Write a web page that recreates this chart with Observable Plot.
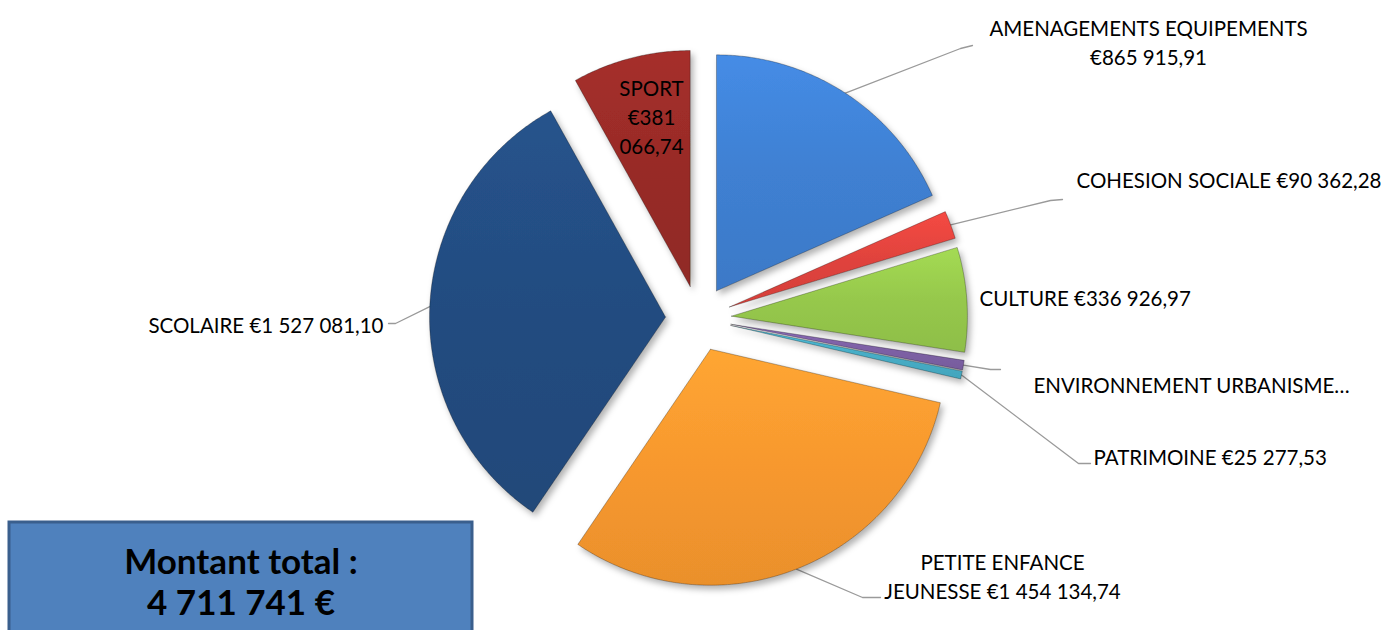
<!DOCTYPE html>
<html>
<head>
<meta charset="utf-8">
<script src="https://cdn.jsdelivr.net/npm/d3@7"></script>
<script src="https://cdn.jsdelivr.net/npm/@observablehq/plot@0.6"></script>
<style>
  html, body { margin: 0; padding: 0; background: #ffffff; }
  #chart { width: 1386px; height: 630px; overflow: hidden; }
</style>
</head>
<body>
<div id="chart"></div>
<script>
// ---------- DATA ----------
const categories = [
  "AMENAGEMENTS EQUIPEMENTS", "COHESION SOCIALE", "CULTURE", "ENVIRONNEMENT URBANISME",
  "PATRIMOINE", "PETITE ENFANCE JEUNESSE", "SCOLAIRE", "SPORT"
];
const values = [865915.91, 90362.28, 336926.97, 30975.73, 25277.53, 1454134.74, 1527081.10, 381066.74];
const labelTexts = [
  "AMENAGEMENTS EQUIPEMENTS\n€865 915,91",
  "COHESION SOCIALE €90 362,28",
  "CULTURE €336 926,97",
  "ENVIRONNEMENT URBANISME…",
  "PATRIMOINE €25 277,53",
  "PETITE ENFANCE\nJEUNESSE €1 454 134,74",
  "SCOLAIRE €1 527 081,10",
  "SPORT\n€381\n066,74"
];
const totalTitle = "Montant total :";

// ---------- LAYOUT / STYLE ----------
const W = 1386, H = 630;
const pie = {cx: 698, cy: 318, r: 236, explode: 33};
const colors = ["#3f80d2", "#e0433d", "#96c84c", "#7e61a6", "#47aec7", "#f7982e", "#234c80", "#982b27"];
const labelPos = [
  {x: 1148, y: 41, anchor: "middle"},
  {x: 1076, y: 178, anchor: "start"},
  {x: 979, y: 296, anchor: "start"},
  {x: 1033, y: 383, anchor: "start"},
  {x: 1093, y: 455, anchor: "start"},
  {x: 1002, y: 575, anchor: "middle"},
  {x: 383, y: 323, anchor: "end"},
  {x: 651, y: 115, anchor: "middle"}
];
const leaderEnds = [
  [[960, 48], [972, 45]],
  [[1050, 200], [1062, 199]],
  null,
  [[990, 369], [1000, 369]],
  [[1078, 463], [1090, 463]],
  [[862, 597], [880, 597]],
  [[395, 323], [388, 323]],
  null
];
const fontFamily = "Lato, 'Open Sans', sans-serif";
const labelSize = 20.5;

// ---------- GEOMETRY FROM DATA ----------
const arcs = d3.pie().sort(null).startAngle(0).endAngle(2 * Math.PI)(values);
const slicePts = [];
const leaderPts = [];
arcs.forEach((a, i) => {
  const mid = (a.startAngle + a.endAngle) / 2;
  const ox = pie.cx + pie.explode * Math.sin(mid);
  const oy = pie.cy - pie.explode * Math.cos(mid);
  const name = categories[i];
  slicePts.push({name, x: ox, y: oy});
  const n = Math.max(2, Math.ceil((a.endAngle - a.startAngle) / (Math.PI / 360)));
  for (let k = 0; k <= n; k++) {
    const t = a.startAngle + (a.endAngle - a.startAngle) * k / n;
    slicePts.push({name, x: ox + pie.r * Math.sin(t), y: oy - pie.r * Math.cos(t)});
  }
  slicePts.push({name, x: ox, y: oy});
  if (leaderEnds[i]) {
    leaderPts.push({name, x: ox + pie.r * Math.sin(mid), y: oy - pie.r * Math.cos(mid)});
    leaderEnds[i].forEach(([x, y]) => leaderPts.push({name, x, y}));
  }
});
const labels = labelTexts.map((t, i) => ({text: t, ...labelPos[i]}));
const total = d3.sum(values);
const totalText = totalTitle + "\n" + d3.format(",d")(Math.round(total)).replace(/,/g, " ") + " €";

const gradIds = categories.map((_, i) => `url(#slice-grad-${i})`);
const textOpts = {x: "x", y: "y", text: "text", fontSize: labelSize, fontFamily, fill: "#000", lineHeight: 1.42};

const plot = Plot.plot({
  width: W, height: H, margin: 0,
  x: {domain: [0, W], range: [0, W], axis: null},
  y: {domain: [0, H], range: [0, H], axis: null},
  color: {domain: categories, range: gradIds},
  style: {background: "#ffffff", overflow: "hidden"},
  marks: [
    Plot.line(leaderPts, {x: "x", y: "y", z: "name", stroke: "#9a9a9a", strokeWidth: 1.3, curve: "linear"}),
    Plot.line(slicePts, {x: "x", y: "y", z: "name", fill: "name", stroke: "rgba(0,0,0,0.28)", strokeWidth: 1, curve: "linear"}),
    Plot.text(labels.filter(d => d.anchor === "start"), {...textOpts, textAnchor: "start"}),
    Plot.text(labels.filter(d => d.anchor === "middle"), {...textOpts, textAnchor: "middle"}),
    Plot.text(labels.filter(d => d.anchor === "end"), {...textOpts, textAnchor: "end"}),
    Plot.rect([0], {x1: 9, x2: 472, y1: 522, y2: 680, fill: "#4f81bd", stroke: "#3a5f8d", strokeWidth: 3}),
    Plot.text([totalText], {x: 240.5, y: 581, text: d => d, textAnchor: "middle", fontSize: 35, fontWeight: "bold", fontFamily, fill: "#000", lineHeight: 1.15})
  ]
});

// gradients + shadow defs
const ns = "http://www.w3.org/2000/svg";
const defs = document.createElementNS(ns, "defs");
colors.forEach((c, i) => {
  const g = document.createElementNS(ns, "linearGradient");
  g.setAttribute("id", `slice-grad-${i}`);
  g.setAttribute("x1", "0"); g.setAttribute("y1", "0"); g.setAttribute("x2", "0"); g.setAttribute("y2", "1");
  [[0, d3.color(c).brighter(0.25)], [0.5, d3.color(c)], [1, d3.color(c).darker(0.15)]].forEach(([o, col]) => {
    const s = document.createElementNS(ns, "stop");
    s.setAttribute("offset", o);
    s.setAttribute("stop-color", col.formatHex());
    g.appendChild(s);
  });
  defs.appendChild(g);
});
const f = document.createElementNS(ns, "filter");
f.setAttribute("id", "slice-shadow");
f.setAttribute("x", "-20%"); f.setAttribute("y", "-20%"); f.setAttribute("width", "140%"); f.setAttribute("height", "140%");
const ds = document.createElementNS(ns, "feDropShadow");
ds.setAttribute("dx", "3"); ds.setAttribute("dy", "4"); ds.setAttribute("stdDeviation", "3");
ds.setAttribute("flood-color", "#000"); ds.setAttribute("flood-opacity", "0.3");
f.appendChild(ds);
defs.appendChild(f);
plot.insertBefore(defs, plot.firstChild);
const lineGroups = plot.querySelectorAll('g[aria-label="line"]');
if (lineGroups[1]) lineGroups[1].setAttribute("filter", "url(#slice-shadow)");

document.getElementById("chart").appendChild(plot);
</script>
</body>
</html>
